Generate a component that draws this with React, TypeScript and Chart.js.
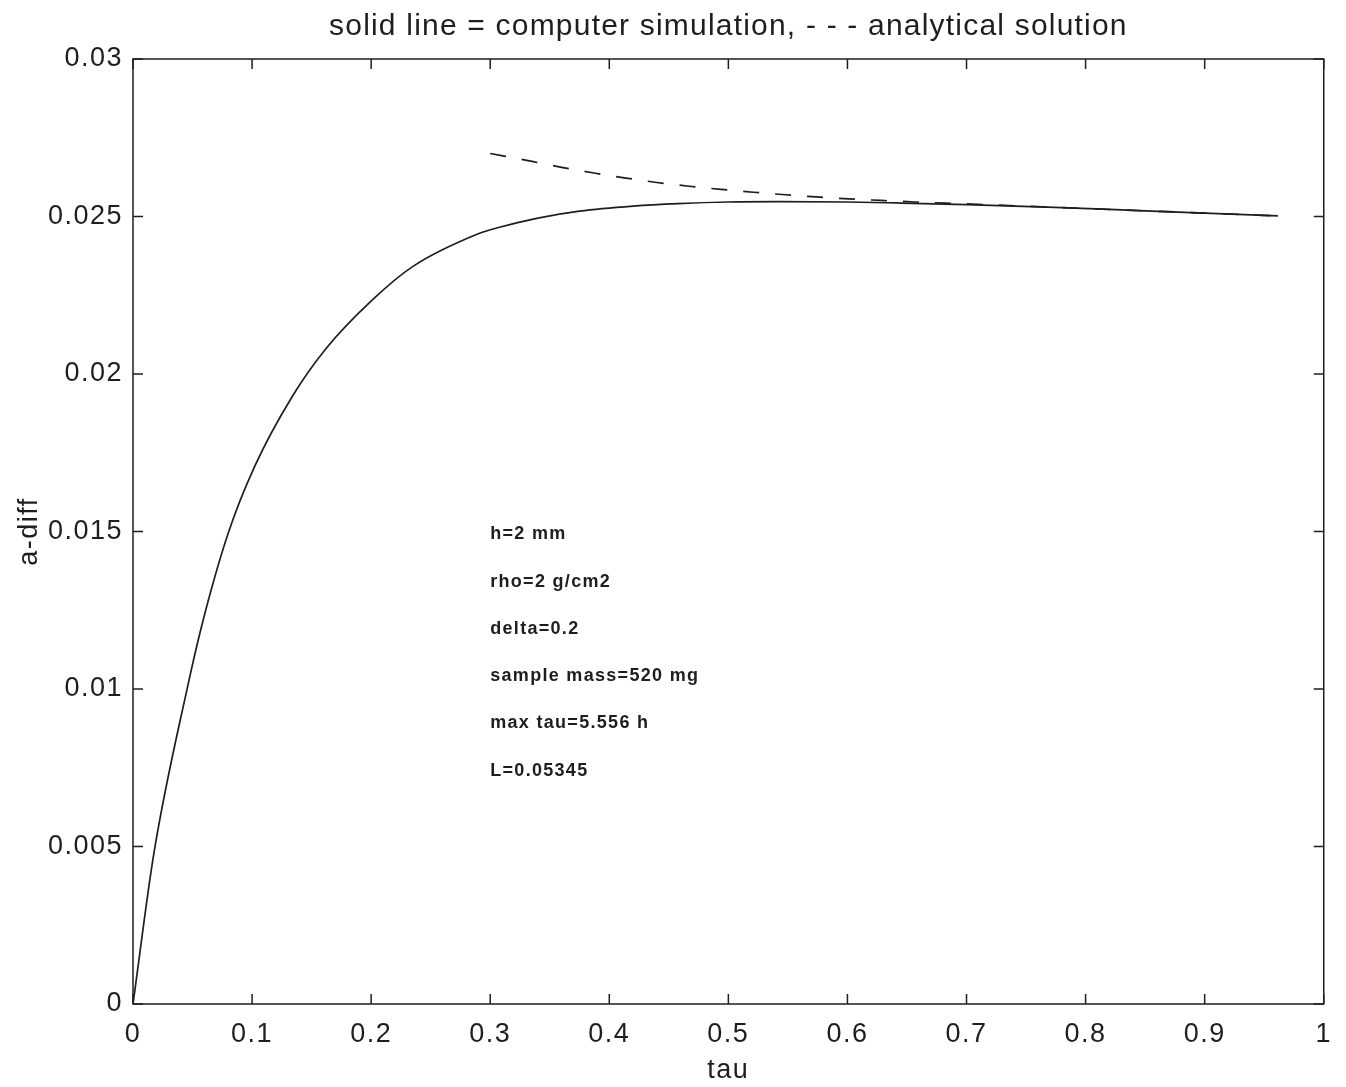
import React, { useEffect, useRef } from "react";
import { Chart, registerables } from "chart.js";

Chart.register(...registerables);

const titleText = "solid line = computer simulation, - - - analytical solution";
const xTitle = "tau";
const yTitle = "a-diff";

const xTickLabels = ["0", "0.1", "0.2", "0.3", "0.4", "0.5", "0.6", "0.7", "0.8", "0.9", "1"];
const yTickLabels = ["0", "0.005", "0.01", "0.015", "0.02", "0.025", "0.03"];

// computer simulation (solid line)
const simTau = [0, 0.0176, 0.046, 0.059, 0.08, 0.102, 0.134, 0.162, 0.201, 0.2345, 0.29, 0.307, 0.34, 0.375, 0.42, 0.458, 0.5, 0.542, 0.6, 0.642, 0.7, 0.768, 0.85, 0.9615];
const simVal = [0, 0.0048, 0.0101, 0.0122, 0.01495, 0.01705, 0.0193, 0.0208, 0.02235, 0.0234, 0.02445, 0.02465, 0.02495, 0.02517, 0.02533, 0.02541, 0.02546, 0.02547, 0.02546, 0.02543, 0.02538, 0.0253, 0.02518, 0.02502];

// analytical solution (dashed line)
const anaTau = [0.3, 0.335, 0.36, 0.387, 0.414, 0.44, 0.467, 0.494, 0.521, 0.548, 0.574, 0.601, 0.628, 0.657, 0.7, 0.768, 0.85, 0.9615];
const anaVal = [0.027, 0.02675, 0.02656, 0.02638, 0.02622, 0.02608, 0.02596, 0.02586, 0.02577, 0.02569, 0.02562, 0.02556, 0.02551, 0.02546, 0.0254, 0.0253, 0.02518, 0.02502];

// parameter notes, placed at data coordinates
const noteLines = ["h=2 mm", "rho=2 g/cm2", "delta=0.2", "sample mass=520 mg", "max tau=5.556 h", "L=0.05345"];
const noteTau = 0.3;
const noteVals = [0.015, 0.0135, 0.012, 0.0105, 0.009, 0.0075];

const FONT = '"Liberation Sans", Arial, Helvetica, sans-serif';
const INK = "#1e1e1e";

const framePlugin = {
  id: "frame",
  beforeLayout(chart: any) {
    chart.ctx.letterSpacing = "1.5px";
  },
  beforeDraw(chart: any) {
    const ctx = chart.ctx;
    ctx.save();
    ctx.fillStyle = "#ffffff";
    ctx.fillRect(0, 0, chart.width, chart.height);
    ctx.restore();
    ctx.letterSpacing = "1.5px";
  },
  afterDraw(chart: any) {
    const ctx = chart.ctx;
    const a = chart.chartArea;
    const xs = chart.scales.x;
    const ys = chart.scales.y;
    ctx.save();
    ctx.strokeStyle = INK;
    ctx.lineWidth = 1.5;
    ctx.strokeRect(a.left, a.top, a.right - a.left, a.bottom - a.top);
    const tl = 10;
    ctx.beginPath();
    xs.ticks.forEach((t: any) => {
      const px = xs.getPixelForValue(t.value);
      ctx.moveTo(px, a.bottom);
      ctx.lineTo(px, a.bottom - tl);
      ctx.moveTo(px, a.top);
      ctx.lineTo(px, a.top + tl);
    });
    ys.ticks.forEach((t: any) => {
      const py = ys.getPixelForValue(t.value);
      ctx.moveTo(a.left, py);
      ctx.lineTo(a.left + tl, py);
      ctx.moveTo(a.right, py);
      ctx.lineTo(a.right - tl, py);
    });
    ctx.stroke();

    // title
    ctx.fillStyle = INK;
    ctx.letterSpacing = "1.2px";
    ctx.font = `30px ${FONT}`;
    ctx.textAlign = "center";
    ctx.textBaseline = "alphabetic";
    ctx.fillText(titleText, (a.left + a.right) / 2, 35);

    // notes
    ctx.letterSpacing = "1.3px";
    ctx.font = `bold 18px ${FONT}`;
    ctx.textAlign = "left";
    ctx.textBaseline = "middle";
    noteLines.forEach((line, i) => {
      ctx.fillText(line, xs.getPixelForValue(noteTau), ys.getPixelForValue(noteVals[i]) + 3);
    });
    ctx.restore();
  },
};

export default function App() {
  const ref = useRef<HTMLCanvasElement | null>(null);
  useEffect(() => {
    if (!ref.current) return;
    const chart = new Chart(ref.current, {
      type: "line",
      data: {
        datasets: [
          {
            label: "computer simulation",
            data: simTau.map((t, i) => ({ x: t, y: simVal[i] })),
            borderColor: INK,
            borderWidth: 1.7,
            pointRadius: 0,
            cubicInterpolationMode: "monotone",
            fill: false,
          },
          {
            label: "analytical solution",
            data: anaTau.map((t, i) => ({ x: t, y: anaVal[i] })),
            borderColor: INK,
            borderWidth: 1.7,
            borderDash: [16, 16],
            pointRadius: 0,
            cubicInterpolationMode: "monotone",
            fill: false,
          },
        ],
      },
      options: {
        responsive: false,
        animation: false,
        devicePixelRatio: 1,
        layout: { padding: { top: 59, right: 19, left: 0, bottom: 0 } },
        plugins: { legend: { display: false }, tooltip: { enabled: false }, title: { display: false } },
        scales: {
          x: {
            type: "linear",
            min: 0,
            max: 1,
            grid: { display: false, drawTicks: false },
            border: { display: false },
            ticks: {
              stepSize: 0.1,
              color: INK,
              padding: 14,
              maxRotation: 0,
              autoSkip: false,
              font: { family: FONT, size: 27 },
              callback: (_v: any, i: number) => xTickLabels[i],
            },
            title: {
              display: true,
              text: xTitle,
              color: INK,
              font: { family: FONT, size: 27 },
              padding: { top: 0, bottom: 0 },
            },
            afterFit: (s: any) => {
              s.height = 83;
            },
          },
          y: {
            type: "linear",
            min: 0,
            max: 0.03,
            grid: { display: false, drawTicks: false },
            border: { display: false },
            ticks: {
              stepSize: 0.005,
              color: INK,
              padding: 10,
              autoSkip: false,
              font: { family: FONT, size: 27 },
              callback: (_v: any, i: number) => yTickLabels[i],
            },
            title: {
              display: true,
              text: yTitle,
              color: INK,
              font: { family: FONT, size: 27 },
              padding: { top: 13, bottom: 0 },
            },
            afterFit: (s: any) => {
              s.width = 133;
            },
          },
        },
      },
      plugins: [framePlugin],
    } as any);
    return () => chart.destroy();
  }, []);
  return (
    <div style={{ position: "absolute", left: 0, top: 0, width: 1346, height: 1087, background: "#fff" }}>
      <canvas ref={ref} width={1346} height={1087} />
    </div>
  );
}
